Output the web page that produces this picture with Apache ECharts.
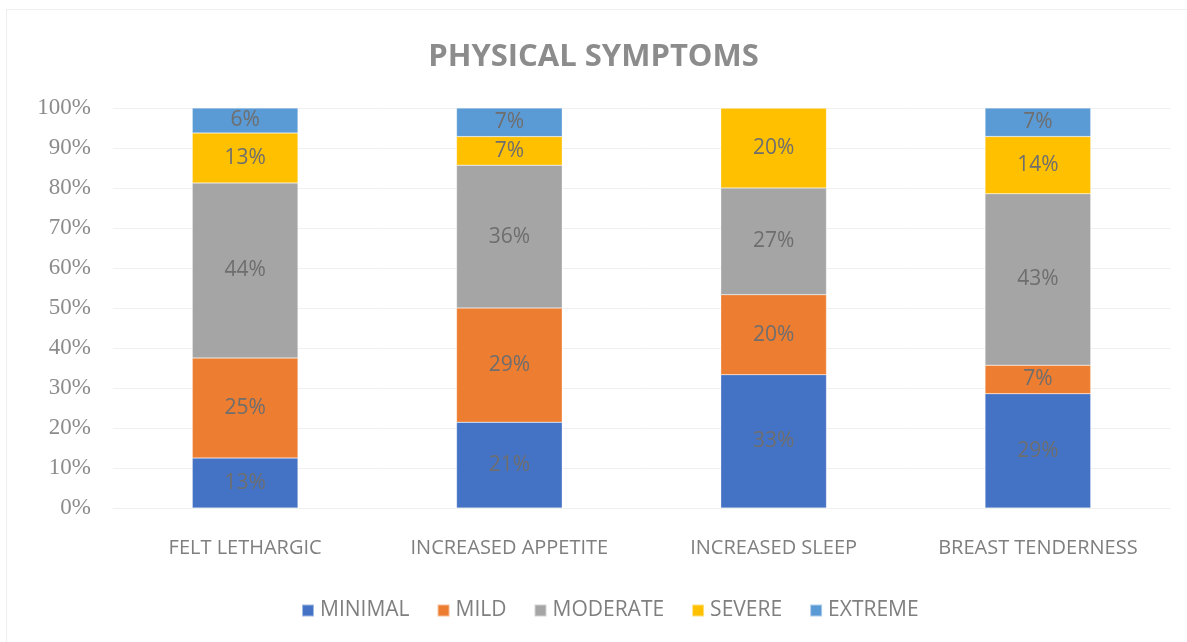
<!DOCTYPE html>
<html>
<head>
<meta charset="utf-8">
<script src="https://cdn.jsdelivr.net/npm/echarts@6/dist/echarts.min.js"></script>
<style>
  html, body { margin: 0; padding: 0; background: #ffffff; }
  #chart { width: 1187px; height: 642px; }
</style>
</head>
<body>
<div id="chart"></div>
<script>
// Symptom categories along the x axis
const categories = ['FELT LETHARGIC', 'INCREASED APPETITE', 'INCREASED SLEEP', 'BREAST TENDERNESS'];

// Share of respondents (percent) per severity level, one value per category
const minimal  = [12.5, 21.43, 33.33, 28.57];
const mild     = [25,   28.57, 20,    7.14];
const moderate = [43.75, 35.71, 26.67, 42.86];
const severe   = [12.5, 7.14,  20,    14.29];
const extreme  = [6.25, 7.14,  0,     7.14];

const seriesNames  = ['MINIMAL', 'MILD', 'MODERATE', 'SEVERE', 'EXTREME'];
const seriesValues = [minimal, mild, moderate, severe, extreme];
const seriesColors = ['#4472c4', '#ed7d31', '#a5a5a5', '#ffc000', '#5b9bd5'];

const yTicks = [0, 10, 20, 30, 40, 50, 60, 70, 80, 90, 100];

const textFont = '"Open Sans", "Liberation Sans", sans-serif';

const chart = echarts.init(document.getElementById('chart'), null, { renderer: 'canvas' });

const series = seriesNames.map((name, i) => ({
  name: name,
  type: 'bar',
  stack: 'total',
  barWidth: '40%',
  data: seriesValues[i],
  itemStyle: { color: seriesColors[i], borderColor: 'rgba(255,255,255,0.5)', borderWidth: 0.5 },
  label: {
    show: true,
    position: 'inside',
    color: '#6e6e6e',
    fontFamily: textFont,
    fontSize: 21,
    formatter: p => (p.value > 0 ? Math.round(p.value) + '%' : '')
  },
  emphasis: { disabled: true }
}));

chart.setOption({
  animation: false,
  backgroundColor: '#ffffff',
  title: {
    text: 'PHYSICAL SYMPTOMS',
    left: 'center',
    top: 37,
    textStyle: {
      fontFamily: textFont,
      fontSize: 31,
      fontWeight: 'bold',
      color: '#8c8c8c'
    }
  },
  graphic: [{
    type: 'rect',
    shape: { x: 6.5, y: 9.5, width: 1200, height: 700 },
    style: { fill: 'none', stroke: '#eeeeee', lineWidth: 1 },
    silent: true,
    z: -1
  }],
  legend: {
    data: seriesNames,
    bottom: 16,
    left: 296,
    itemWidth: 12,
    itemHeight: 12,
    itemGap: 27,
    icon: 'rect',
    textStyle: { fontFamily: textFont, fontSize: 21, color: '#7f7f7f', padding: [0, 0, 0, 1] }
  },
  grid: { left: 113, right: 17, top: 108, bottom: 134, containLabel: false },
  xAxis: {
    type: 'category',
    data: categories,
    axisLine: { show: true, lineStyle: { color: '#f0f0f0' } },
    axisTick: { show: false },
    axisLabel: { fontFamily: textFont, fontSize: 20, color: '#7f7f7f', margin: 30 }
  },
  yAxis: {
    type: 'value',
    min: yTicks[0],
    max: yTicks[yTicks.length - 1],
    interval: 10,
    axisLine: { show: false },
    axisTick: { show: false },
    splitLine: { lineStyle: { color: '#f0f0f0', width: 1 } },
    axisLabel: {
      fontFamily: '"Liberation Serif", "DejaVu Serif", serif',
      fontSize: 23,
      color: '#8c8c8c',
      margin: 22,
      formatter: v => v + '%'
    }
  },
  series: series
});
</script>
</body>
</html>
